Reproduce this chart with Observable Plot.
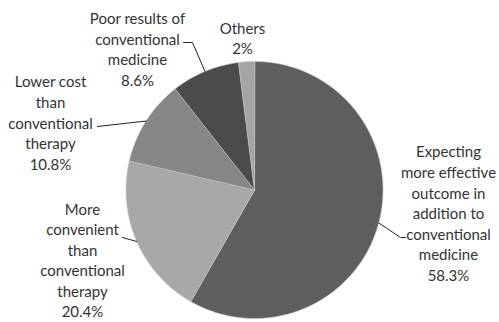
<!DOCTYPE html>
<html><head><meta charset="utf-8">
<script src="https://cdn.jsdelivr.net/npm/d3@7"></script>
<script src="https://cdn.jsdelivr.net/npm/@observablehq/plot@0.6"></script>
<style>body{margin:0;background:#fff}</style>
</head><body><div id="chart"></div>
<script>
// ---- data ----
const categories = [
  "Expecting\nmore effective\noutcome in\naddition to\nconventional\nmedicine",
  "More\nconvenient\nthan\nconventional\ntherapy",
  "Lower cost\nthan\nconventional\ntherapy",
  "Poor results of\nconventional\nmedicine",
  "Others"
];
const values = [58.3, 20.4, 10.8, 8.6, 2];
const valueLabels = ["58.3%", "20.4%", "10.8%", "8.6%", "2%"];

// ---- style / layout ----
const colors = ["#5e5e5e", "#a8a8a8", "#868686", "#4b4b4b", "#a5a5a5"];
const cx = 254, cy = 189.5, R = 128.5;
const labelPos = [[448, 212], [82, 259], [50, 121.5], [137, 48], [242, 37]];
const leaderStart = [[[405, 237], [400, 237]], [[122, 237]], [[97, 126]], [[183, 42], [192, 42]], null];

const toU = ([px, py]) => [(px - cx) / R, (cy - py) / R];

const pieData = d3.pie().sort(null).value(d => d)(values);

const slicePts = [];
pieData.forEach((p, i) => {
  slicePts.push({k: i, x: 0, y: 0, c: colors[i]});
  const n = Math.max(2, Math.ceil((p.endAngle - p.startAngle) / (Math.PI / 360)));
  for (let j = 0; j <= n; j++) {
    const a = p.startAngle + (p.endAngle - p.startAngle) * j / n;
    slicePts.push({k: i, x: Math.sin(a), y: Math.cos(a), c: colors[i]});
  }
});

const leaderPts = [];
pieData.forEach((p, i) => {
  if (!leaderStart[i]) return;
  leaderStart[i].forEach(pt => { const [x, y] = toU(pt); leaderPts.push({k: i, x, y}); });
  const m = (p.startAngle + p.endAngle) / 2;
  leaderPts.push({k: i, x: Math.sin(m), y: Math.cos(m)});
});

const labels = categories.map((c, i) => {
  const [x, y] = toU(labelPos[i]);
  return {x, y, text: c + "\n" + valueLabels[i]};
});

const chart = Plot.plot({
  width: 499, height: 322,
  margin: 0,
  x: {domain: [-1, 1], range: [cx - R, cx + R], axis: null},
  y: {domain: [-1, 1], range: [cy + R, cy - R], axis: null},
  color: {type: "identity"},
  style: {fontFamily: "Lato, sans-serif", fontSize: "15px", background: "#fff"},
  marks: [
    Plot.line(slicePts, {x: "x", y: "y", z: "k", fill: "c", stroke: "#c4c4c4", strokeWidth: 0.6, curve: "linear-closed"}),
    Plot.line(leaderPts, {x: "x", y: "y", z: "k", stroke: "#222", strokeWidth: 1}),
    Plot.text(labels, {x: "x", y: "y", text: "text", fill: "#333", lineHeight: 1.37, fontSize: 15})
  ]
});
document.getElementById("chart").appendChild(chart);
</script>
</body></html>
